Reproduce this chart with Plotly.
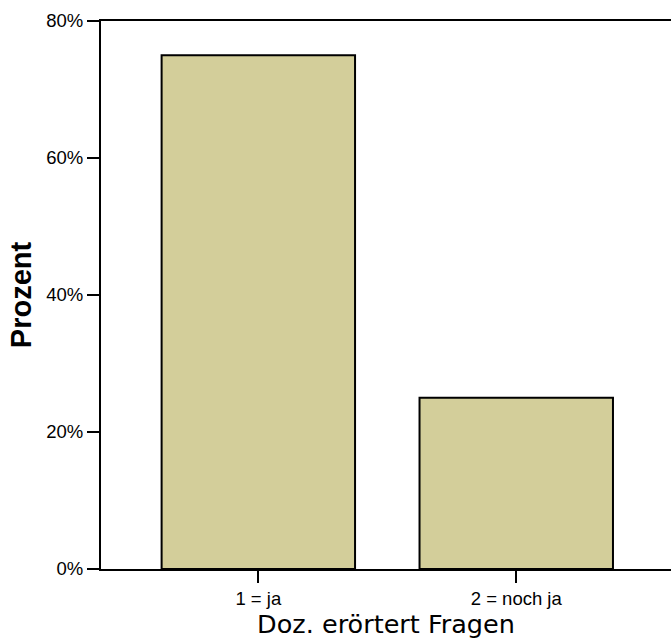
import plotly.graph_objects as go

categories = ["1 = ja", "2 = noch ja"]
percent = [75, 25]
y_ticks = [0, 20, 40, 60, 80]
y_tick_labels = ["0%", "20%", "40%", "60%", "80%"]

tick_font = "Liberation Sans, Arial, sans-serif"

fig = go.Figure(
    go.Bar(
        x=categories,
        y=percent,
        marker=dict(color="#d3ce9a", line=dict(color="black", width=2)),
        width=0.75,
    )
)

fig.update_layout(
    width=671,
    height=639,
    margin=dict(l=101, r=0, t=21, b=70),
    plot_bgcolor="white",
    paper_bgcolor="white",
    showlegend=False,
    font=dict(family=tick_font, color="black", size=18),
)

fig.update_xaxes(
    range=[-0.61, 1.60],
    showline=True,
    linecolor="black",
    linewidth=2,
    mirror=True,
    ticks="outside",
    ticklen=12,
    tickwidth=2,
    tickcolor="black",
    showgrid=False,
    tickfont=dict(size=18.5, family=tick_font, color="black"),
    title=dict(text="Doz. erörtert Fragen",
               font=dict(size=25.5, family="DejaVu Sans, sans-serif", color="black"),
               standoff=0),
)

fig.update_yaxes(
    range=[0, 80],
    tickvals=y_ticks,
    ticktext=y_tick_labels,
    showline=True,
    linecolor="black",
    linewidth=2,
    ticks="outside",
    ticklen=12,
    tickwidth=2,
    tickcolor="black",
    showgrid=False,
    zeroline=False,
    tickfont=dict(size=18.5, family=tick_font, color="black"),
    title=dict(text="<b>Prozent</b>",
               font=dict(size=29, family="Liberation Sans, Arial, sans-serif", color="black"),
               standoff=6),
)

fig.write_html("out.html", config={"displayModeBar": False},
               post_script="document.body.style.margin='0px';")
